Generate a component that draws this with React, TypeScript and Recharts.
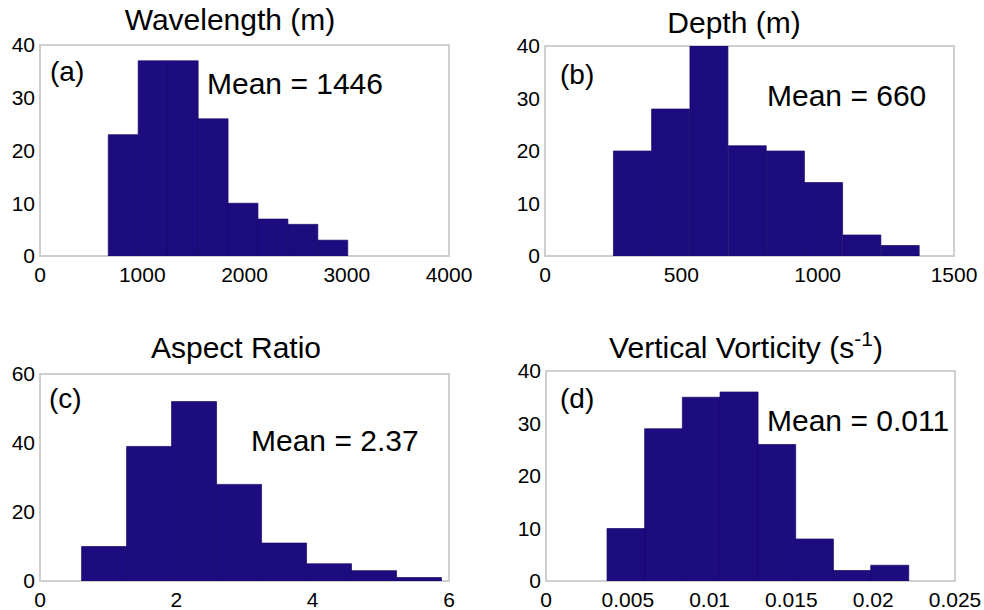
import React from 'react'
import { BarChart, Bar, XAxis, YAxis, ReferenceArea } from 'recharts'

// bin edges and counts
const wavelengthEdges = [668, 960, 1253, 1546, 1838, 2131, 2424, 2716, 3009]
const wavelengthCounts = [23, 37, 37, 26, 10, 7, 6, 3]
const wavelengthTicks = [0, 1000, 2000, 3000, 4000]

const depthEdges = [251, 391, 531, 672, 812, 952, 1092, 1233, 1373]
const depthCounts = [20, 28, 40, 21, 20, 14, 4, 2]
const depthTicks = [0, 500, 1000, 1500]

const aspectEdges = [0.61, 1.27, 1.93, 2.59, 3.25, 3.91, 4.57, 5.23, 5.89]
const aspectCounts = [10, 39, 52, 28, 11, 5, 3, 1]
const aspectTicks = [0, 2, 4, 6]

const vorticityEdges = [0.00373, 0.00603, 0.00833, 0.01064, 0.01294, 0.01524, 0.01755, 0.01985, 0.02215]
const vorticityCounts = [10, 29, 35, 36, 26, 8, 2, 3]
const vorticityTicks = [0, 0.005, 0.01, 0.015, 0.02, 0.025]

const countTicks40 = [0, 10, 20, 30, 40]
const countTicks60 = [0, 20, 40, 60]

const FONT = '"Liberation Sans", Arial, sans-serif'
const BAR_FILL = '#1d0c80'

function toBins(edges: number[], counts: number[]) {
  return counts.map((c, i) => ({ x: (edges[i] + edges[i + 1]) / 2, count: c }))
}

interface PanelProps {
  left: number
  top: number
  width: number
  height: number
  margin: { top: number; right: number; bottom: number; left: number }
  yWidth: number
  xHeight: number
  edges: number[]
  counts: number[]
  xTicks: number[]
  yTicks: number[]
}

function Panel({ left, top, width, height, margin, yWidth, xHeight, edges, counts, xTicks, yTicks }: PanelProps) {
  const data = toBins(edges, counts)
  const xMax = xTicks[xTicks.length - 1]
  const yMax = yTicks[yTicks.length - 1]
  const tick = { fill: '#000', fontSize: 21, fontFamily: FONT }
  return (
    <div style={{ position: 'absolute', left, top }}>
      <BarChart width={width} height={height} data={data} margin={margin} barCategoryGap={0} barGap={0}>
        <XAxis
          dataKey="x"
          type="number"
          domain={[0, xMax]}
          ticks={xTicks}
          interval={0}
          allowDataOverflow
          axisLine={false}
          tickLine={false}
          tickSize={8}
          tickMargin={3}
          height={xHeight}
          tick={tick}
        />
        <YAxis
          type="number"
          domain={[0, yMax]}
          ticks={yTicks}
          interval={0}
          allowDataOverflow
          axisLine={false}
          tickLine={false}
          tickSize={3}
          tickMargin={2}
          width={yWidth}
          tick={tick}
        />
        <ReferenceArea x1={0} x2={xMax} y1={0} y2={yMax} fill="#fff" fillOpacity={0} stroke="#cfcfcf" strokeWidth={2} ifOverflow="visible" />
        <Bar dataKey="count" fill={BAR_FILL} stroke="#150866" strokeWidth={0.7} isAnimationActive={false} />
      </BarChart>
    </div>
  )
}

const textStyle: React.CSSProperties = {
  position: 'absolute',
  fontFamily: FONT,
  fontSize: 30,
  lineHeight: 1,
  color: '#000',
  whiteSpace: 'nowrap'
}

function Title({ cx, top, children }: { cx: number; top: number; children: React.ReactNode }) {
  return <div style={{ ...textStyle, left: cx - 200, width: 400, top, textAlign: 'center' }}>{children}</div>
}

function Note({ left, top, text, size = 30 }: { left: number; top: number; text: string; size?: number }) {
  return <div style={{ ...textStyle, left, top, fontSize: size }}>{text}</div>
}

export default function App() {
  return (
    <div style={{ position: 'absolute', left: 0, top: 0, width: 984, height: 610, background: '#fff', overflow: 'hidden' }}>
      <Panel
        left={0} top={0} width={492} height={300}
        margin={{ top: 45, right: 43, bottom: 14, left: 0 }}
        yWidth={40} xHeight={30}
        edges={wavelengthEdges} counts={wavelengthCounts}
        xTicks={wavelengthTicks} yTicks={countTicks40}
      />
      <Panel
        left={492} top={0} width={492} height={300}
        margin={{ top: 46, right: 30, bottom: 14, left: 0 }}
        yWidth={53} xHeight={30}
        edges={depthEdges} counts={depthCounts}
        xTicks={depthTicks} yTicks={countTicks40}
      />
      <Panel
        left={0} top={305} width={492} height={305}
        margin={{ top: 69, right: 43, bottom: 0, left: 0 }}
        yWidth={40} xHeight={29}
        edges={aspectEdges} counts={aspectCounts}
        xTicks={aspectTicks} yTicks={countTicks60}
      />
      <Panel
        left={492} top={305} width={492} height={305}
        margin={{ top: 66, right: 29, bottom: 0, left: 0 }}
        yWidth={54} xHeight={29}
        edges={vorticityEdges} counts={vorticityCounts}
        xTicks={vorticityTicks} yTicks={countTicks40}
      />

      <Title cx={230} top={5}>Wavelength (m)</Title>
      <Title cx={734} top={8}>Depth (m)</Title>
      <Title cx={236} top={333}>Aspect Ratio</Title>
      <Title cx={746} top={333}>
        Vertical Vorticity (s<span style={{ fontSize: 21, position: 'relative', top: -12 }}>-1</span>)
      </Title>

      <Note left={50} top={58} text="(a)" size={28} />
      <Note left={560} top={61} text="(b)" size={28} />
      <Note left={49} top={385} text="(c)" size={28} />
      <Note left={560} top={385} text="(d)" size={28} />

      <Note left={207} top={69} text="Mean = 1446" />
      <Note left={767} top={81} text="Mean = 660" />
      <Note left={251} top={426} text="Mean = 2.37" />
      <Note left={767} top={406} text="Mean = 0.011" />
    </div>
  )
}
